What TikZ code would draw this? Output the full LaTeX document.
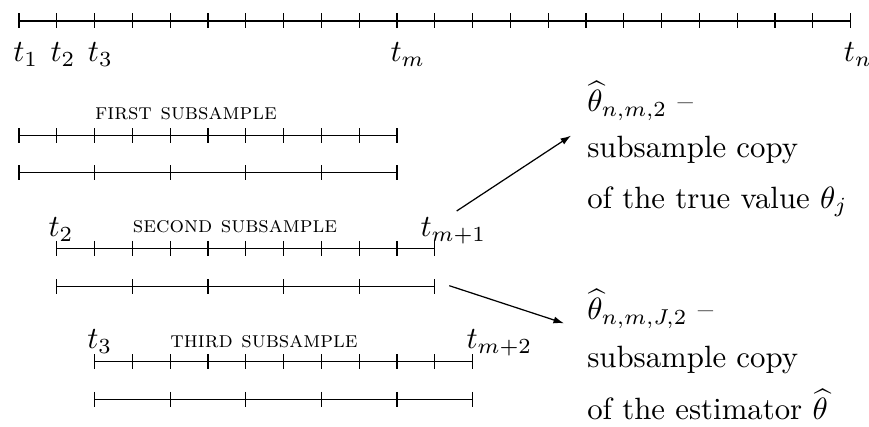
\documentclass[tikz,border=0pt]{standalone}
\usepackage{fontspec}
\usetikzlibrary{arrows.meta}
\newcommand{\tickline}[4]{% x0, y, dx, n
  \draw[tl] (#1,#2) -- ({#1+#3*#4},#2);
  \foreach \i in {0,...,#4} \draw[tl] ({#1+#3*\i},{#2-7.5}) -- ({#1+#3*\i},{#2+7.5});
}
\begin{document}
\begin{tikzpicture}[x=0.3247pt,y=-0.3247pt,
  tl/.style={line width=0.4pt},
  lab/.style={anchor=base west,inner sep=0pt},
  sclab/.style={anchor=base,inner sep=0pt,font=\fontsize{7.4}{9}\selectfont\scshape\addfontfeatures{LetterSpace=2}},
  txt/.style={anchor=base west,inner sep=0pt},
  arr/.style={-{Latex[length=3.4pt,width=2.3pt]},line width=0.4pt}]
\useasboundingbox (0,0) rectangle (869,427);

% full sample
\tickline{19}{21}{37.8}{22}
\node[lab] (t1) at (12.7,62) {$t_1$};
\node[lab] (t2) at (50,62) {$t_2$};
\node[lab] (t3) at (87.3,62) {$t_3$};
\node[lab] (tm) at (390,62) {$t_m$};
\node[lab] (tn) at (843.3,62) {$t_n$};

% first subsample
\node[sclab] (lab1) at (186,119.5) {first subsample};
\tickline{19}{135.7}{37.8}{10}
\tickline{19}{172.7}{75.6}{5}

% second subsample
\node[lab] (s2a) at (48,236.5) {$t_2$};
\node[lab] (s2b) at (420,236.5) {$t_{m+1}$};
\node[sclab] (lab2) at (235,233) {second subsample};
\tickline{56.8}{248.3}{37.8}{10}
\tickline{56.8}{286.7}{75.6}{5}

% third subsample
\node[lab] (s3a) at (86.7,349) {$t_3$};
\node[lab] (s3b) at (466,349) {$t_{m+2}$};
\node[sclab] (lab3) at (264,347.3) {third subsample};
\tickline{94.6}{361.7}{37.8}{10}
\tickline{94.6}{399.3}{75.6}{5}

% right texts
\node[txt] (r1a) at (586.7,111.7) {$\widehat{\theta}_{n,m,2}$ --};
\node[txt] (r1b) at (586.7,157.3) {subsample copy};
\node[txt] (r1c) at (586.7,208.3) {of the true value $\theta_j$};
\node[txt] (r2a) at (586.7,320) {$\widehat{\theta}_{n,m,J,2}$ --};
\node[txt] (r2b) at (586.7,367.3) {subsample copy};
\node[txt] (r2c) at (586.7,420) {of the estimator $\widehat{\theta}$};

% arrows
\coordinate (a1s) at (456.7,211);
\coordinate (a1e) at (571,135.7);
\coordinate (a2s) at (449.3,285.7);
\coordinate (a2e) at (564,323.3);
\draw[arr] (a1s) -- (a1e);
\draw[arr] (a2s) -- (a2e);
\end{tikzpicture}
\end{document}
